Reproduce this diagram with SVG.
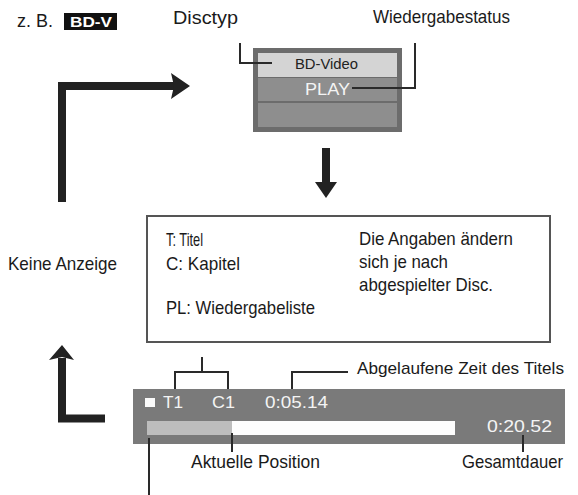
<svg xmlns="http://www.w3.org/2000/svg" width="578" height="495" viewBox="0 0 578 495">
<style>
.t{font-family:"Liberation Sans",Arial,sans-serif;font-size:18.5px;fill:#1a1a1a}
.w{font-family:"Liberation Sans",Arial,sans-serif;fill:#f4f4f4}
.ln{fill:none;stroke:#2a2a2a;stroke-width:2}
.big{fill:none;stroke:#222;stroke-width:8}
</style>
<rect width="578" height="495" fill="#fff"/>
<g id="header">
<text class="t" x="17" y="27" textLength="36" lengthAdjust="spacingAndGlyphs">z. B.</text>
<rect x="64" y="13" width="53" height="17" fill="#111"/>
<text class="w" x="70" y="27" font-size="15" font-weight="bold" style="fill:#fff" textLength="42" lengthAdjust="spacingAndGlyphs">BD-V</text>
</g>
<g id="disctyp-label"><text class="t" x="173" y="24" textLength="65" lengthAdjust="spacingAndGlyphs">Disctyp</text></g>
<g id="status-label"><text class="t" x="373" y="23" textLength="137" lengthAdjust="spacingAndGlyphs">Wiedergabestatus</text></g>
<g id="panel">
<rect x="253" y="48" width="149" height="84" fill="#6c6c6c"/>
<rect x="258" y="53" width="139" height="24" fill="#d4d4d4"/>
<rect x="258" y="78" width="139" height="23" fill="#8e8e8e"/>
<rect x="258" y="103" width="139" height="24" fill="#8e8e8e"/>
<text class="t" x="295" y="69" style="font-size:14.5px;fill:#222" textLength="63" lengthAdjust="spacingAndGlyphs">BD-Video</text>
<text class="w" x="305" y="95" font-size="17" textLength="45" lengthAdjust="spacingAndGlyphs">PLAY</text>
</g>
<g id="info-box">
<rect x="147" y="216" width="403" height="126" fill="#fff" stroke="#555" stroke-width="2"/>
<text class="t" x="166" y="246" textLength="37" lengthAdjust="spacingAndGlyphs">T: Titel</text>
<text class="t" x="166" y="270" textLength="74" lengthAdjust="spacingAndGlyphs">C: Kapitel</text>
<text class="t" x="166" y="314" textLength="149" lengthAdjust="spacingAndGlyphs">PL: Wiedergabeliste</text>
<text class="t" x="359" y="245" textLength="154" lengthAdjust="spacingAndGlyphs">Die Angaben ändern</text>
<text class="t" x="359" y="268" textLength="89" lengthAdjust="spacingAndGlyphs">sich je nach</text>
<text class="t" x="359" y="291" textLength="134" lengthAdjust="spacingAndGlyphs">abgespielter Disc.</text>
</g>
<g id="keine-anzeige"><text class="t" x="8" y="270" textLength="109" lengthAdjust="spacingAndGlyphs">Keine Anzeige</text></g>
<g id="bar">
<rect x="133" y="389" width="432" height="55" fill="#7a7a7a"/>
<rect x="147" y="421" width="85" height="14" fill="#bdbdbd"/>
<rect x="232" y="421" width="223" height="14" fill="#fdfdfd"/>
<rect x="145" y="398" width="10" height="9" fill="#fafafa"/>
<text class="w" x="163" y="408" font-size="16" textLength="20" lengthAdjust="spacingAndGlyphs">T1</text>
<text class="w" x="212" y="408" font-size="16" textLength="23" lengthAdjust="spacingAndGlyphs">C1</text>
<text class="w" x="265" y="408" font-size="16" textLength="63" lengthAdjust="spacingAndGlyphs">0:05.14</text>
<text class="w" x="487" y="432" font-size="16" textLength="65" lengthAdjust="spacingAndGlyphs">0:20.52</text>
</g>
<g id="labels-bottom">
<text class="t" x="357" y="374" style="font-size:17px" textLength="207" lengthAdjust="spacingAndGlyphs">Abgelaufene Zeit des Titels</text>
<text class="t" x="191" y="468" textLength="129" lengthAdjust="spacingAndGlyphs">Aktuelle Position</text>
<text class="t" x="462" y="468" textLength="101" lengthAdjust="spacingAndGlyphs">Gesamtdauer</text>
</g>
<g id="connectors">
<path class="ln" d="M240,43 V63 H272"/>
<path class="ln" d="M415,43 V88 H352"/>
<path class="ln" d="M202,357 V372 M175,389 V372 H228 V389"/>
<path class="ln" d="M292,389 V372 H348"/>
<path class="ln" d="M232,433 V452"/>
<path class="ln" d="M149,438 V495"/>
<path class="ln" d="M523,435 V452"/>
<path class="big" d="M62,202 V86 H176"/>
<polygon points="171,73 190,86 171,99 174,86" fill="#222"/>
<path class="big" d="M326,148 V185"/>
<polygon points="315,182 337,182 326,198" fill="#222"/>
<path class="big" d="M105,418.5 H62 V358"/>
<polygon points="49,360 62,345 74,360 62,357" fill="#222"/>
</g>
</svg>
